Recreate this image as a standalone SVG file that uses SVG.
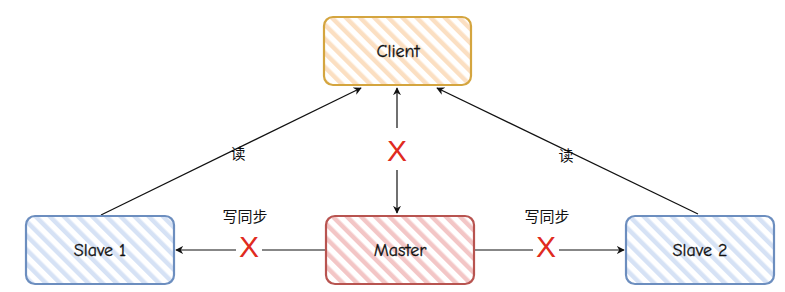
<svg xmlns="http://www.w3.org/2000/svg" width="785" height="292" viewBox="0 0 785 292">
<style>
.lbl{font-family:"Comic Neue","Liberation Sans","Noto Sans CJK SC",sans-serif;font-size:18px;fill:#111;text-anchor:middle;dominant-baseline:central;stroke:#111;stroke-width:0.3}
.cjk{font-family:"Noto Sans CJK SC",sans-serif;font-size:15px;fill:#111;text-anchor:middle;dominant-baseline:central}
.x{font-family:"Liberation Sans",sans-serif;font-size:30px;fill:#e02b20;text-anchor:middle;dominant-baseline:central}
.edge{fill:none;stroke:#111;stroke-width:1.2}
</style>
<defs>
<pattern id="hO" width="10" height="10" patternUnits="userSpaceOnUse" patternTransform="rotate(-45)"><rect width="10" height="10" fill="#fff"/><rect width="4.5" height="10" fill="#fbdfc2"/></pattern>
<pattern id="hR" width="10" height="10" patternUnits="userSpaceOnUse" patternTransform="rotate(-45)"><rect width="10" height="10" fill="#fff"/><rect width="4.5" height="10" fill="#f3c6c6"/></pattern>
<pattern id="hB" width="10" height="10" patternUnits="userSpaceOnUse" patternTransform="rotate(-45)"><rect width="10" height="10" fill="#fff"/><rect width="4.5" height="10" fill="#d6e2f5"/></pattern>
<marker id="ar" viewBox="0 0 10 10" refX="9" refY="5" markerWidth="8" markerHeight="8" markerUnits="userSpaceOnUse" orient="auto"><path d="M0,0 L10,5 L0,10 L3,5 Z" fill="#111"/></marker>
</defs>
<g id="edges">
<line class="edge" x1="101" y1="215" x2="361" y2="88" marker-end="url(#ar)"/>
<text class="cjk" x="238" y="152">读</text>
<line class="edge" x1="698" y1="214" x2="437" y2="88" marker-end="url(#ar)"/>
<text class="cjk" x="566" y="154">读</text>
<line class="edge" x1="397" y1="128" x2="397" y2="88" marker-end="url(#ar)"/>
<line class="edge" x1="397" y1="170" x2="397" y2="213" marker-end="url(#ar)"/>
<text class="x" x="397" y="150">X</text>
<line class="edge" x1="236" y1="250" x2="176" y2="250" marker-end="url(#ar)"/>
<line class="edge" x1="326" y1="250" x2="262" y2="250"/>
<text class="x" x="249" y="246">X</text>
<text class="cjk" x="245" y="215">写同步</text>
<line class="edge" x1="475" y1="250" x2="533" y2="250"/>
<line class="edge" x1="559" y1="250" x2="624" y2="250" marker-end="url(#ar)"/>
<text class="x" x="546" y="246">X</text>
<text class="cjk" x="547" y="215">写同步</text>
</g>
<g id="client">
<rect x="324" y="17" width="147" height="68" rx="9" fill="url(#hO)" stroke="#d4a53f" stroke-width="2.2"/>
<text class="lbl" x="398" y="51">Client</text>
</g>
<g id="master">
<rect x="326" y="216" width="148" height="68" rx="9" fill="url(#hR)" stroke="#b85450" stroke-width="2.2"/>
<text class="lbl" x="400" y="250">Master</text>
</g>
<g id="slave1">
<rect x="26" y="216" width="148" height="68" rx="9" fill="url(#hB)" stroke="#6c8ebf" stroke-width="2.2"/>
<text class="lbl" x="100" y="250">Slave 1</text>
</g>
<g id="slave2">
<rect x="626" y="216" width="148" height="68" rx="9" fill="url(#hB)" stroke="#6c8ebf" stroke-width="2.2"/>
<text class="lbl" x="700" y="250">Slave 2</text>
</g>
</svg>
